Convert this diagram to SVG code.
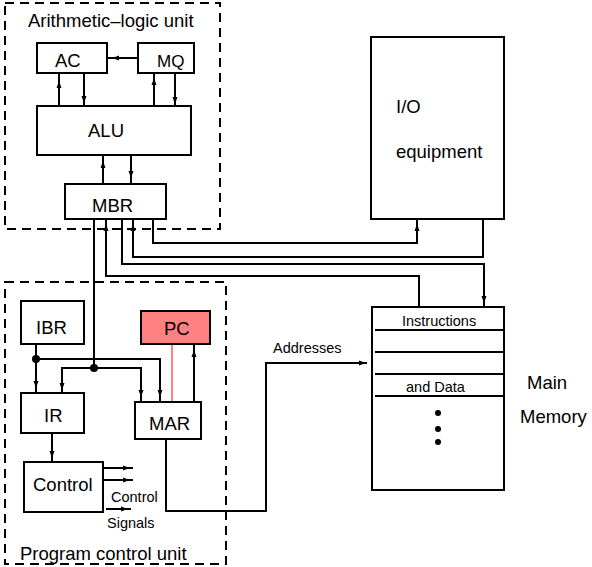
<svg xmlns="http://www.w3.org/2000/svg" xmlns:xlink="http://www.w3.org/1999/xlink" width="592" height="567" viewBox="0 0 592 567">
<style>
text{font-family:"Liberation Sans",Arial,sans-serif;fill:#000}
.big{font-size:18.5px}
.sm{font-size:14.5px}
.box{fill:#fff;stroke:#000;stroke-width:2}
.dash{fill:none;stroke:#000;stroke-width:2;stroke-dasharray:9,6}
.ln{fill:none;stroke:#000;stroke-width:2}
.ah{fill:#000}
</style>
<defs>
<path id="ad" class="ah" d="M-2.5,-7 L2.5,-7 L0,0Z"/>
<path id="au" class="ah" d="M-2.5,7 L2.5,7 L0,0Z"/>
<path id="ar" class="ah" d="M-7,-2.5 L-7,2.5 L0,0Z"/>
<path id="al" class="ah" d="M7,-2.5 L7,2.5 L0,0Z"/>
</defs>
<rect width="592" height="567" fill="#fff"/>

<g id="alu-unit">
<rect class="dash" x="5" y="3" width="215" height="226"/>
<text class="big" x="28" y="27">Arithmetic–logic unit</text>
</g>
<g id="pc-unit">
<rect class="dash" x="5" y="282" width="221" height="282"/>
<text class="big" x="20" y="560">Program control unit</text>
</g>

<g id="connectors">
<!-- ALU section -->
<path class="ln" d="M138,58 H107"/><use xlink:href="#al" x="112" y="58"/>
<path class="ln" d="M59,73 V106"/><use xlink:href="#au" x="59" y="81"/>
<path class="ln" d="M84,73 V106"/><use xlink:href="#ad" x="84" y="103"/>
<path class="ln" d="M154,73 V106"/><use xlink:href="#au" x="154" y="78"/>
<path class="ln" d="M175,73 V106"/><use xlink:href="#ad" x="175" y="104"/>
<path class="ln" d="M103,155 V184"/><use xlink:href="#au" x="103" y="161"/>
<path class="ln" d="M131,155 V184"/><use xlink:href="#ad" x="131" y="178"/>
<!-- MBR bus -->
<path class="ln" d="M94,219 V368"/>
<path class="ln" d="M106,219 V276 H419 V307"/><use xlink:href="#au" x="106" y="224"/>
<path class="ln" d="M122,219 V264 H484 V307"/><use xlink:href="#ad" x="484" y="303"/>
<path class="ln" d="M133,219 V257 H483 V219"/><use xlink:href="#au" x="133" y="224"/>
<path class="ln" d="M153,219 V243 H417 V219"/><use xlink:href="#au" x="417" y="224"/>
<!-- program control -->
<path class="ln" d="M36,344 V393"/><use xlink:href="#ad" x="36" y="388"/>
<path class="ln" d="M36,359 H160 V402"/><use xlink:href="#ad" x="160" y="397"/>
<path class="ln" d="M62,393 V368 H141 V402"/><use xlink:href="#ad" x="62" y="390"/><use xlink:href="#ad" x="141" y="397"/>
<circle cx="36" cy="359" r="4"/>
<circle cx="94" cy="368" r="4"/>
<path d="M172,344 V402" fill="none" stroke="#ff8080" stroke-width="2"/>
<path class="ln" d="M194,402 V344"/><use xlink:href="#au" x="194" y="350"/>
<path class="ln" d="M52,433 V462"/><use xlink:href="#ad" x="52" y="458"/>
<path class="ln" d="M103,468 H133"/><use xlink:href="#ar" x="130" y="468"/>
<path class="ln" d="M103,480 H133"/><use xlink:href="#ar" x="130" y="480"/>
<path class="ln" d="M106,509 H131"/><use xlink:href="#ar" x="128" y="509"/>
<path class="ln" d="M166,439 V511 H266 V363 H367"/><use xlink:href="#ar" x="366" y="363"/>
<text class="sm" x="111" y="502">Control</text>
<text class="sm" x="107" y="528">Signals</text>
<text class="sm" x="273" y="353">Addresses</text>
</g>

<g id="AC"><rect class="box" x="37" y="43" width="70" height="30"/><text class="big" x="55" y="67">AC</text></g>
<g id="MQ"><rect class="box" x="138" y="43" width="56" height="30"/><text class="big" x="157" y="67" style="font-size:17px">MQ</text></g>
<g id="ALU"><rect class="box" x="37" y="106" width="154" height="49"/><text class="big" x="88" y="137">ALU</text></g>
<g id="MBR"><rect class="box" x="65" y="184" width="101" height="35"/><text class="big" x="92" y="212">MBR</text></g>
<g id="IO"><rect class="box" x="371" y="37" width="133" height="182"/><text class="big" x="396" y="113">I/O</text><text class="big" x="396" y="158">equipment</text></g>
<g id="IBR"><rect class="box" x="21" y="301" width="63" height="43"/><text class="big" x="36" y="334">IBR</text></g>
<g id="PC"><rect x="141" y="311" width="69" height="33" fill="#ff8080" stroke="#000" stroke-width="2"/><text class="big" x="164" y="335">PC</text></g>
<g id="IR"><rect class="box" x="21" y="393" width="63" height="40"/><text class="big" x="44" y="422">IR</text></g>
<g id="MAR"><rect class="box" x="135" y="402" width="66" height="37"/><text class="big" x="149" y="430">MAR</text></g>
<g id="Control"><rect class="box" x="24" y="462" width="79" height="50"/><text class="big" x="33" y="491">Control</text></g>
<g id="Memory">
<rect class="box" x="372" y="307" width="132" height="183"/>
<path class="ln" d="M375,330 H504 M375,352 H504 M375,374 H504 M375,396 H504"/>
<text class="sm" x="402" y="326">Instructions</text>
<text class="sm" x="406" y="392">and Data</text>
<circle cx="438" cy="413" r="3"/><circle cx="438" cy="429" r="3"/><circle cx="438" cy="442" r="3"/>
<text class="big" x="527" y="389">Main</text>
<text class="big" x="520" y="423">Memory</text>
</g>
</svg>
